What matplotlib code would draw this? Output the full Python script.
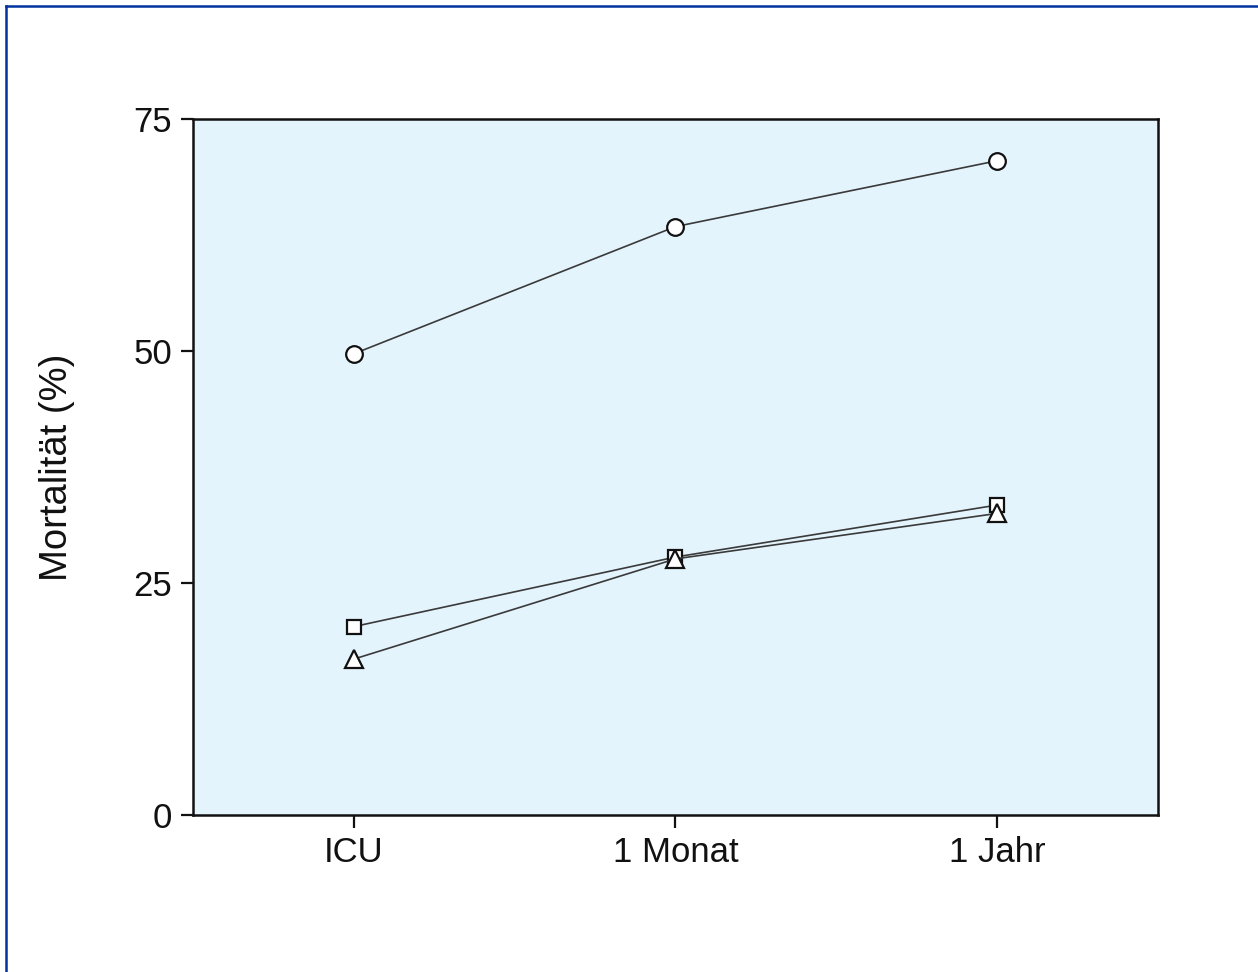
import matplotlib
matplotlib.use("Agg")
import matplotlib.pyplot as plt
from matplotlib.lines import Line2D

plt.rcParams['font.family'] = ['Liberation Sans', 'DejaVu Sans']

categories = ["ICU", "1 Monat", "1 Jahr"]
circle_vals = [49.7, 63.4, 70.5]
square_vals = [20.3, 27.8, 33.4]
triangle_vals = [16.8, 27.6, 32.5]
y_ticks = [0, 25, 50, 75]

fig = plt.figure(figsize=(12.58, 9.72), dpi=100)
ax = fig.add_axes([0.1534, 0.1615, 0.7671, 0.7161])
ax.set_facecolor('#e4f4fd')

x = list(range(len(categories)))
line_kw = dict(color='#3a3a3a', linewidth=1.2, markerfacecolor='white',
               markeredgecolor='#111111', markeredgewidth=1.6, zorder=3)
ax.plot(x, circle_vals, marker='o', markersize=12, **line_kw)
ax.plot(x, square_vals, marker='s', markersize=10.5, **line_kw)
ax.plot(x, triangle_vals, marker='^', markersize=13, **line_kw)

ax.set_xlim(-0.5, 2.5)
ax.set_ylim(0, 75)
ax.set_xticks(x)
ax.set_xticklabels(categories)
ax.set_yticks(y_ticks)
ax.tick_params(axis='both', direction='out', length=9, width=1.6,
               labelsize=25, colors='#111111', pad=6)
for s in ax.spines.values():
    s.set_linewidth(1.8)
    s.set_color('#111111')
ax.set_ylabel('Mortalität (%)', fontsize=27.5, color='#111111', labelpad=42)

# frame edges along the top and left of the figure
fig.add_artist(Line2D([0.0048, 0.0048], [0, 0.9940], transform=fig.transFigure,
                      color='#0033a0', linewidth=1.8))
fig.add_artist(Line2D([0.0048, 1.0], [0.9940, 0.9940], transform=fig.transFigure,
                      color='#0033a0', linewidth=1.8))

fig.savefig('out.png', dpi=100, facecolor='white')
